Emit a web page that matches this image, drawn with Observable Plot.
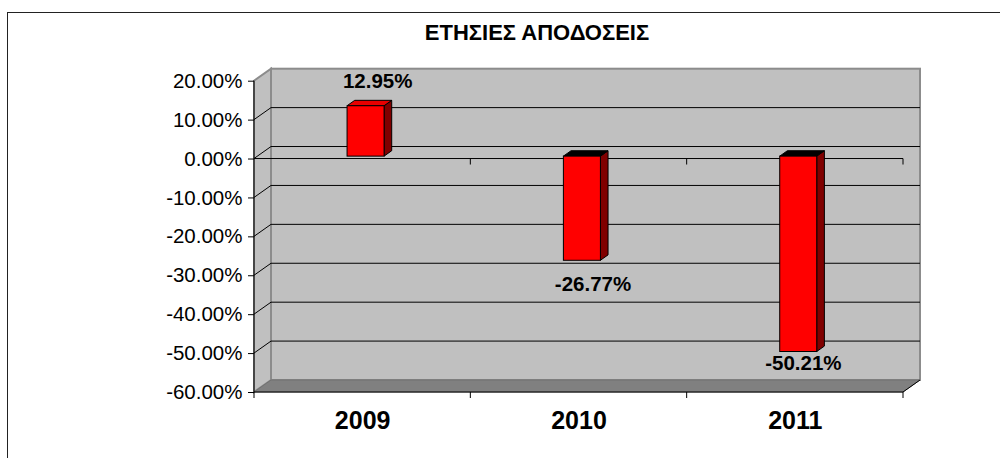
<!DOCTYPE html>
<html><head><meta charset="utf-8">
<script src="https://cdn.jsdelivr.net/npm/d3@7"></script>
<script src="https://cdn.jsdelivr.net/npm/@observablehq/plot@0.6"></script>
<style>
body{margin:0;background:#fff;}
#wrap{position:relative;width:1000px;height:458px;overflow:hidden;font-family:"Liberation Sans",Arial,sans-serif;}
#frame{position:absolute;left:7px;top:12px;right:-5px;bottom:-5px;border-top:1.5px solid #222;border-left:1.5px solid #222;}
#title{position:absolute;left:0;width:1074px;top:22px;text-align:center;font-weight:bold;font-size:22px;line-height:22px;color:#000;}
#chart{position:absolute;left:0;top:55px;}
</style></head><body>
<div id="wrap"><div id="frame"></div><div id="title">ΕΤΗΣΙΕΣ ΑΠΟΔΟΣΕΙΣ</div><div id="chart"></div></div>
<script>
// ---- data ----
const years = ["2009", "2010", "2011"];
const returns = [0.1295, -0.2677, -0.5021];
const returnLabels = ["12.95%", "-26.77%", "-50.21%"];
const yTicks = [0.2, 0.1, 0, -0.1, -0.2, -0.3, -0.4, -0.5, -0.6];

const data = years.map((year, i) => ({year, value: returns[i], label: returnLabels[i]}));

// ---- 3D styling ----
const DX = 17, DY = -12;          // wall depth
const F0 = 0.2, F1 = 0.65;         // bar depth span (fraction of wall depth)
const BAR_FRAC = 0.171;            // bar width as fraction of band
const fmt = d => (d * 100).toFixed(2) + "%";

function walls(index, scales, values, dims) {
  const y = scales.y;
  const x0 = dims.marginLeft, x1 = dims.width - dims.marginRight;
  const yTop = y(d3.max(yTicks)), yBot = y(d3.min(yTicks));
  const g = d3.create("svg:g");
  // back wall
  g.append("rect").attr("x", x0 + DX).attr("y", yTop + DY).attr("width", x1 - x0).attr("height", yBot - yTop)
    .attr("fill", "#c0c0c0").attr("stroke", "#8c8c8c").attr("stroke-width", 2);
  // side wall
  g.append("path").attr("d", `M${x0},${yTop}L${x0 + DX},${yTop + DY}L${x0 + DX},${yBot + DY}L${x0},${yBot}Z`)
    .attr("fill", "#c0c0c0").attr("stroke", "#8c8c8c").attr("stroke-width", 2);
  // floor
  g.append("path").attr("d", `M${x0},${yBot}L${x0 + DX},${yBot + DY}L${x1 + DX},${yBot + DY}L${x1},${yBot}Z`)
    .attr("fill", "#808080").attr("stroke", "#707070").attr("stroke-width", 1);
  g.append("line").attr("x1", x1).attr("y1", yBot).attr("x2", x1 + DX).attr("y2", yBot + DY).attr("stroke", "#000");
  // gridlines on back and side wall
  for (const t of yTicks) {
    if (t === d3.max(yTicks) || t === d3.min(yTicks)) continue;
    const yy = y(t);
    g.append("line").attr("x1", x0 + DX).attr("x2", x1 + DX).attr("y1", yy + DY).attr("y2", yy + DY).attr("stroke", "#000");
    g.append("line").attr("x1", x0).attr("x2", x0 + DX).attr("y1", yy).attr("y2", yy + DY).attr("stroke", "#000");
  }
  // front axis lines
  const step = (x1 - x0) / years.length;
  g.append("line").attr("x1", x0).attr("x2", x0).attr("y1", yTop).attr("y2", yBot + 6).attr("stroke", "#000");
  for (const yy of [y(0), yBot]) {
    g.append("line").attr("x1", x0).attr("x2", x1).attr("y1", yy).attr("y2", yy).attr("stroke", "#000");
    for (let k = 1; k <= years.length; k++) {
      g.append("line").attr("x1", x0 + k * step).attr("x2", x0 + k * step).attr("y1", yy).attr("y2", yy + 6).attr("stroke", "#000");
    }
  }
  return g.node();
}

function barSides(index, scales, values, dims) {
  const {x, y} = scales;
  const x0 = dims.marginLeft, x1 = dims.width - dims.marginRight;
  const bw = (x1 - x0) / years.length;
  const w = bw * BAR_FRAC;
  const ddx = (F1 - F0) * DX, ddy = (F1 - F0) * DY;
  const g = d3.create("svg:g").attr("stroke", "#000").attr("stroke-width", 1).attr("stroke-linejoin", "round");
  for (const d of data) {
    const cx = x(d.year) + bw / 2 + F0 * DX;
    const xl = cx - w / 2, xr = cx + w / 2;
    const yt = y(Math.max(d.value, 0)) + F0 * DY, yb = y(Math.min(d.value, 0)) + F0 * DY;
    g.append("path").attr("d", `M${xr},${yt}L${xr + ddx},${yt + ddy}L${xr + ddx},${yb + ddy}L${xr},${yb}Z`).attr("fill", "#800000");
    g.append("path").attr("d", `M${xl},${yt}L${xl + ddx},${yt + ddy}L${xr + ddx},${yt + ddy}L${xr},${yt}Z`)
      .attr("fill", d.value >= 0 ? "#e80000" : "#000");
  }
  return g.node();
}

const bandInset = (1 - BAR_FRAC) / 2;
const chart = Plot.plot({
  width: 1000,
  height: 403,
  marginLeft: 254,
  marginRight: 97,
  marginTop: 25.7,
  marginBottom: 66,
  x: {domain: years, padding: 0, round: false},
  y: {domain: [-0.6, 0.2]},
  style: {fontFamily: '"Liberation Sans", Arial, sans-serif', background: "transparent", overflow: "visible", color: "#000"},
  marks: [
    walls,
    Plot.axisY({ticks: yTicks, tickFormat: fmt, tickSize: 6, tickPadding: 6, fontSize: 20.5, label: null, stroke: "#000", fill: "#000"}),
    Plot.axisX({tickSize: 0, tickPadding: 19, fontSize: 25, fontWeight: "bold", label: null, fill: "#000"}),
    barSides,
    Plot.barY(data, {
      x: "year", y: "value", fill: "#ff0000", stroke: "#000", strokeWidth: 1,
      insetLeft: 216.3 * bandInset, insetRight: 216.3 * bandInset,
      dx: F0 * DX, dy: F0 * DY
    }),
    Plot.text(data.filter(d => d.year === "2009"), {x: "year", y: "value", text: "label", dx: 15, dy: -27, fontSize: 20.5, fontWeight: "bold", fill: "#000"}),
    Plot.text(data.filter(d => d.year === "2010"), {x: "year", y: "value", text: "label", dx: 14, dy: 21, fontSize: 20.5, fontWeight: "bold", fill: "#000"}),
    Plot.text(data.filter(d => d.year === "2011"), {x: "year", y: "value", text: "label", dx: 8, dy: 9, fontSize: 20.5, fontWeight: "bold", fill: "#000"})
  ]
});
document.getElementById("chart").appendChild(chart);
</script>
</body></html>
